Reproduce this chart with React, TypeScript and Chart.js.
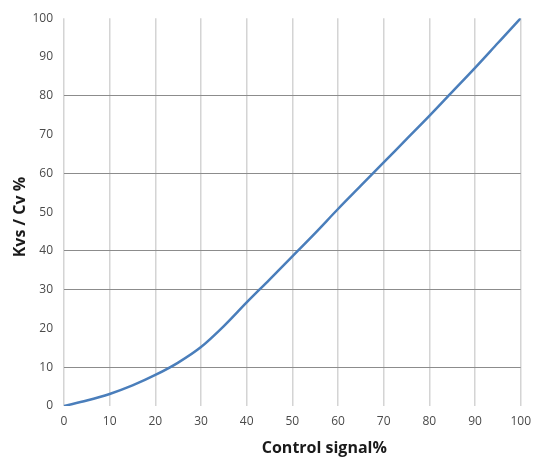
import { useEffect, useRef } from 'react';
import { Chart, registerables } from 'chart.js';

Chart.register(...registerables);

// Control signal % (x) vs Kvs / Cv % (y)
const controlSignal = [0, 5, 10, 15, 20, 25, 30, 35, 40, 45, 50, 55, 60, 65, 70, 75, 80, 85, 90, 95, 100];
const kvsPercent = [0, 1.4, 3.1, 5.3, 8, 11.2, 15.2, 20.6, 26.7, 32.6, 38.6, 44.6, 50.8, 56.8, 62.8, 68.8, 74.8, 81, 87.2, 93.6, 100];

// horizontal grid lines that show up darker in the reference
const strongRows = [10, 30, 40, 60, 80];

const xTitle = 'Control signal%';
const yTitle = 'Kvs / Cv %';

const tickFont = { family: 'Open Sans', size: 12 };

// draws both axis titles where Excel put them
const axisTitles = {
  id: 'axisTitles',
  afterDraw(chart: Chart) {
    const { ctx, chartArea } = chart;
    ctx.save();
    ctx.fillStyle = '#1a1a1a';
    ctx.font = 'bold 16px "Open Sans"';
    ctx.textAlign = 'center';
    ctx.textBaseline = 'middle';
    ctx.fillText(xTitle, chartArea.left + chartArea.width * 0.57, chartArea.bottom + 42);
    ctx.translate(20, (chartArea.top + chartArea.bottom) / 2 + 5);
    ctx.rotate(-Math.PI / 2);
    ctx.fillText(yTitle, 0, 0);
    ctx.restore();
  },
};

export default function App() {
  const canvasRef = useRef<HTMLCanvasElement>(null);
  const chartRef = useRef<Chart | null>(null);

  useEffect(() => {
    document.body.style.margin = '0';
    if (!canvasRef.current) return;
    if (chartRef.current) chartRef.current.destroy();

    chartRef.current = new Chart(canvasRef.current, {
      type: 'line',
      data: {
        datasets: [
          {
            data: controlSignal.map((x, i) => ({ x, y: kvsPercent[i] })),
            borderColor: '#4a7ebb',
            borderWidth: 2.5,
            pointRadius: 0,
            cubicInterpolationMode: 'monotone',
          },
        ],
      },
      options: {
        animation: false,
        responsive: false,
        layout: { padding: { left: 0, right: 15, top: 17, bottom: 0 } },
        plugins: {
          legend: { display: false },
          tooltip: { enabled: false },
        },
        scales: {
          x: {
            type: 'linear',
            min: 0,
            max: 100,
            border: { display: false },
            grid: { color: '#d4d4d4', lineWidth: 1.5, drawTicks: false },
            ticks: { stepSize: 10, color: '#4a4a4a', font: tickFont, padding: 8 },
            afterFit: (scale) => {
              scale.height = 51;
            },
          },
          y: {
            min: 0,
            max: 100,
            border: { display: false },
            grid: {
              drawTicks: false,
              color: (c) => (strongRows.includes(c.tick?.value) ? '#8c8c8c' : 'rgba(0,0,0,0)'),
              lineWidth: 1,
            },
            ticks: { stepSize: 10, color: '#4a4a4a', font: tickFont, padding: 11 },
            afterFit: (scale) => {
              scale.width = 64;
            },
          },
        },
      },
      plugins: [axisTitles],
    });

    return () => {
      if (chartRef.current) {
        chartRef.current.destroy();
        chartRef.current = null;
      }
    };
  }, []);

  return (
    <div style={{ width: 539, height: 457, background: '#fff' }}>
      <canvas ref={canvasRef} width={539} height={457}></canvas>
    </div>
  );
}
